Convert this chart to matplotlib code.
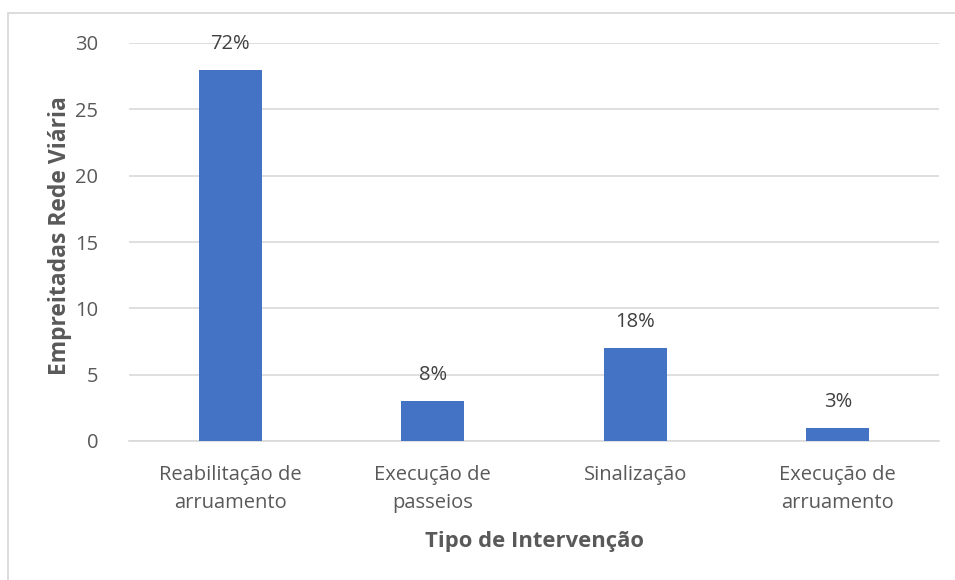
import matplotlib
matplotlib.use("Agg")
import matplotlib.pyplot as plt
from matplotlib.patches import Rectangle

categories = ["Reabilitação de\narruamento", "Execução de\npasseios", "Sinalização", "Execução de\narruamento"]
values = [28, 3, 7, 1]
pct_labels = ["72%", "8%", "18%", "3%"]
yticks = [0, 5, 10, 15, 20, 25, 30]

plt.rcParams['font.family'] = ['Open Sans', 'DejaVu Sans']
txt = '#595959'
fs = 14.5

fig = plt.figure(figsize=(9.55, 5.8), dpi=100)
ax = fig.add_axes([129/955, 1-441/580, 810/955, 398/580])

x = range(len(categories))
bars = ax.bar(x, values, width=0.31, color='#4472C4', zorder=3)
ax.set_xlim(-0.5, len(categories)-0.5)
ax.set_ylim(0, 30)
ax.set_yticks(yticks)
ax.set_yticklabels([str(v) for v in yticks], fontsize=fs, color=txt)
ax.set_xticks(list(x))
ax.set_xticklabels(categories, fontsize=fs, color=txt, linespacing=1.55)
ax.tick_params(axis='both', length=0)
ax.tick_params(axis='y', pad=22)
ax.tick_params(axis='x', pad=17)
ax.grid(axis='y', color='#d9d9d9', linewidth=1.2, zorder=0)
for s in ['top', 'right', 'left']:
    ax.spines[s].set_visible(False)
ax.spines['bottom'].set_color('#d9d9d9')
ax.spines['bottom'].set_linewidth(1.2)

for b, lab in zip(bars, pct_labels):
    ax.annotate(lab, (b.get_x()+b.get_width()/2, b.get_height()), xytext=(0, 26),
                textcoords='offset pixels', ha='center', va='center', fontsize=fs, color='#404040')

ax.set_ylabel("Empreitadas Rede Viária", fontsize=16.5, fontweight='bold', color=txt)
ax.set_xlabel("Tipo de Intervenção", fontsize=15.8, fontweight='bold', color=txt)
ax.xaxis.label.set_va('center')
ax.yaxis.label.set_va('center')
ax.xaxis.set_label_coords(534/955, 1-541/580, transform=fig.transFigure)
ax.yaxis.set_label_coords(60/955, 1-236/580, transform=fig.transFigure)

fig.patches.append(Rectangle((7.5/955, -0.1), 2, 1 - 13.5/580 + 0.1, transform=fig.transFigure,
                             fill=False, edgecolor='#d9d9d9', linewidth=1.3))

fig.savefig("out.png", dpi=100)
